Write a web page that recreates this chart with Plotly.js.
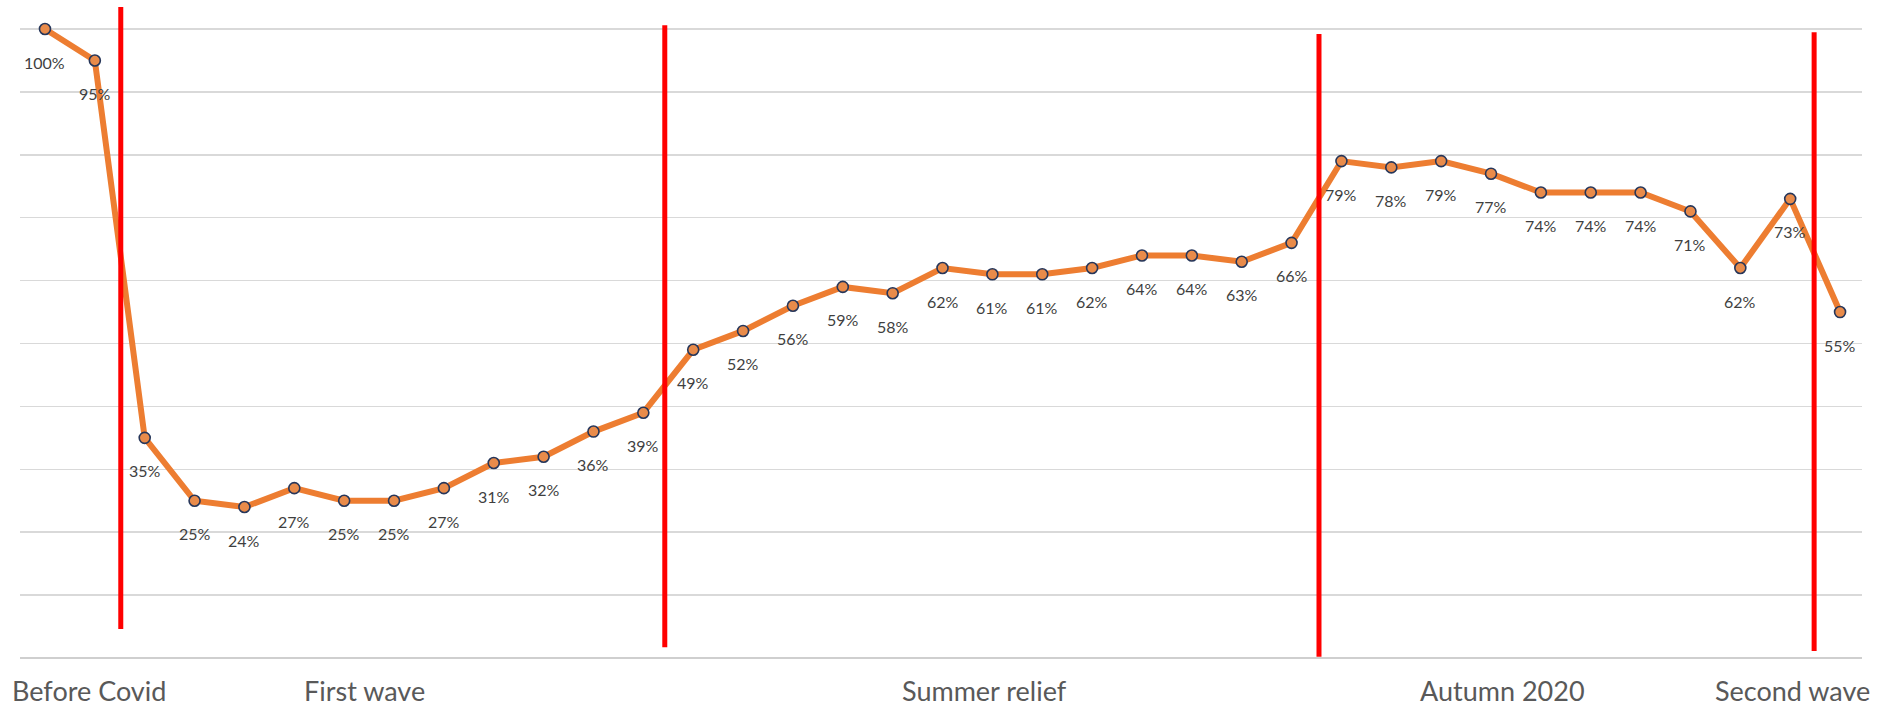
<!DOCTYPE html>
<html>
<head>
<meta charset="utf-8">
<script src="https://cdn.plot.ly/plotly-3.0.1.min.js"></script>
<style>
  html, body { margin: 0; padding: 0; background: #ffffff; }
  #chart { width: 1886px; height: 708px; }
</style>
</head>
<body>
<div id="chart"></div>
<script>
// Weekly activity level relative to the pre-Covid baseline (%)
const values = [100, 95, 35, 25, 24, 27, 25, 25, 27, 31, 32, 36, 39,
                49, 52, 56, 59, 58, 62, 61, 61, 62, 64, 64, 63, 66,
                79, 78, 79, 77, 74, 74, 74, 71, 62, 73, 55];

// Phase names shown under the axis, and where they sit along the week index
const phaseNames = ["Before Covid", "First wave", "Summer relief", "Autumn 2020", "Second wave"];
const phaseCentres = [0.88, 6.40, 18.85, 29.24, 35.04];

// Week-index positions of the red phase dividers and their vertical extents (%)
const dividerX = [1.52, 12.43, 25.55, 35.48];
const dividerBottom = [4.6, 1.7, 0.2, 1.1];
const dividerTop = [103.5, 100.6, 99.2, 99.5];

const weeks = values.map((_, i) => i);
const FONT = 'Lato, "Open Sans", sans-serif';

const trace = {
  x: weeks,
  y: values,
  type: 'scatter',
  mode: 'lines+markers',
  line: { color: '#ED7D31', width: 6 },
  marker: { size: 11, color: '#E98B4A', line: { color: '#26365A', width: 1.6 } },
  cliponaxis: false,
  hoverinfo: 'skip'
};

const valueLabels = values.map((v, i) => ({
  x: i, y: v, xref: 'x', yref: 'y',
  text: v + '%', showarrow: false,
  yshift: -33,
  font: { family: FONT, size: 16, color: '#3F3F3F' }
}));

const phaseLabels = phaseNames.map((name, i) => ({
  x: phaseCentres[i], y: 0, xref: 'x', yref: 'paper',
  yanchor: 'top', yshift: -14,
  text: name, showarrow: false,
  font: { family: FONT, size: 27, color: '#595959' }
}));

const dividers = dividerX.map((x, i) => ({
  type: 'line', xref: 'x', yref: 'y',
  x0: x, x1: x, y0: dividerBottom[i], y1: dividerTop[i],
  line: { color: '#FF0000', width: 5 },
  layer: 'above'
}));

const layout = {
  width: 1886,
  height: 708,
  margin: { l: 20, r: 24, t: 7, b: 50 },
  paper_bgcolor: '#ffffff',
  plot_bgcolor: '#ffffff',
  showlegend: false,
  xaxis: {
    range: [-0.501, 36.44],
    showgrid: false, zeroline: false, showline: false,
    showticklabels: false, ticks: ''
  },
  yaxis: {
    range: [0, 103.5],
    tick0: 0, dtick: 10,
    showgrid: true, gridcolor: '#D9D9D9', gridwidth: 1.5,
    zeroline: true, zerolinecolor: '#CFCFCF', zerolinewidth: 1.5,
    showline: false, showticklabels: false, ticks: ''
  },
  shapes: dividers,
  annotations: valueLabels.concat(phaseLabels)
};

Plotly.newPlot('chart', [trace], layout, { staticPlot: true, displayModeBar: false });
</script>
</body>
</html>
